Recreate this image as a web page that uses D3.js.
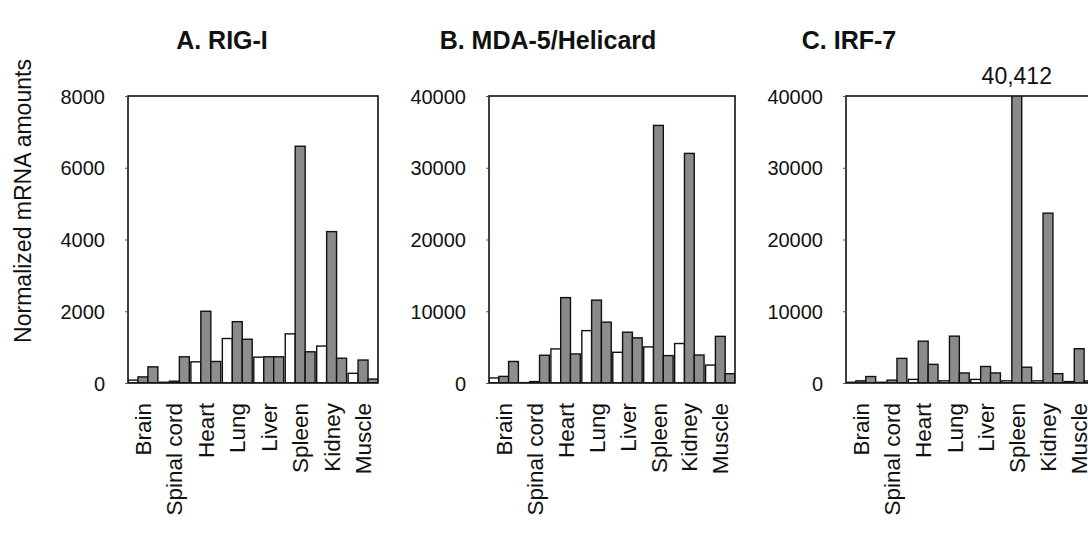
<!DOCTYPE html>
<html>
<head>
<meta charset="utf-8">
<script src="https://cdn.jsdelivr.net/npm/d3@7"></script>
<style>
  body { margin: 0; background: #fff; }
  svg text { font-family: "Liberation Sans", Arial, Helvetica, sans-serif; fill: #111; }
</style>
</head>
<body>
<div id="chart"></div>
<script>
// tissues on the x axis (same for the three panels)
var tissues = ["Brain", "Spinal cord", "Heart", "Lung", "Liver", "Spleen", "Kidney", "Muscle"];

// A. RIG-I  (white bar, first grey bar, second grey bar)
var rigWhite = [80, 20, 590, 1240, 720, 1370, 1030, 270];
var rigGrey1 = [170, 50, 2000, 1710, 730, 6600, 4220, 640];
var rigGrey2 = [450, 730, 600, 1220, 730, 870, 690, 110];

// B. MDA-5/Helicard
var mdaWhite = [700, 50, 4750, 7300, 4280, 5030, 5500, 2500];
var mdaGrey1 = [920, 200, 11900, 11550, 7080, 35900, 32000, 6500];
var mdaGrey2 = [3000, 3870, 4050, 8480, 6290, 3820, 3900, 1300];

// C. IRF-7
var irfWhite = [100, 100, 500, 300, 500, 300, 300, 200];
var irfGrey1 = [300, 400, 5830, 6530, 2300, 40412, 23670, 4780];
var irfGrey2 = [900, 3430, 2600, 1400, 1400, 2200, 1300, 300];

// y tick labels
var ticksA = [0, 2000, 4000, 6000, 8000];
var ticksBC = [0, 10000, 20000, 30000, 40000];

var width = 1088, height = 534;
var plotTop = 96, plotBottom = 383;
var fills = ["#ffffff", "#8a8a8a", "#8e8e8e"];

var panels = [
  {title: "A. RIG-I", titleX: 222, x0: 128, x1: 378, max: 8000, ticks: ticksA, series: [rigWhite, rigGrey1, rigGrey2]},
  {title: "B. MDA-5/Helicard", titleX: 548, x0: 489, x1: 735, max: 40000, ticks: ticksBC, series: [mdaWhite, mdaGrey1, mdaGrey2]},
  {title: "C. IRF-7", titleX: 849, x0: 846, x1: 1094, max: 40000, ticks: ticksBC, series: [irfWhite, irfGrey1, irfGrey2]}
];

var svg = d3.select("#chart")
  .append("svg")
    .attr("width", width)
    .attr("height", height);

// y axis title
svg.append("text")
  .attr("transform", "translate(31,201) rotate(-90)")
  .attr("text-anchor", "middle")
  .style("font-size", "23px")
  .text("Normalized mRNA amounts");

panels.forEach(function(p, pi) {
  var g = svg.append("g");

  var x = d3.scaleBand()
    .domain(tissues)
    .range([p.x0, p.x1])
    .paddingInner(0.05)
    .paddingOuter(0);

  var xs = d3.scaleBand()
    .domain([0, 1, 2])
    .range([0, x.bandwidth()]);

  var y = d3.scaleLinear()
    .domain([0, p.max])
    .range([plotBottom, plotTop]);

  // clip so that values above the axis max are cut at the frame
  g.append("clipPath")
    .attr("id", "clip" + pi)
    .append("rect")
      .attr("x", p.x0)
      .attr("y", plotTop)
      .attr("width", p.x1 - p.x0)
      .attr("height", plotBottom - plotTop);

  // flatten the three series into one list of bars
  var bars = [];
  p.series.forEach(function(s, si) {
    s.forEach(function(v, ti) {
      bars.push({tissue: tissues[ti], s: si, value: v});
    });
  });

  g.append("g")
    .attr("clip-path", "url(#clip" + pi + ")")
    .selectAll("rect")
    .data(bars)
    .enter()
    .append("rect")
      .attr("x", function(d) { return x(d.tissue) + xs(d.s); })
      .attr("y", function(d) { return y(d.value); })
      .attr("width", xs.bandwidth())
      .attr("height", function(d) { return plotBottom - y(d.value); })
      .attr("fill", function(d) { return fills[d.s]; })
      .attr("stroke", "#111")
      .attr("stroke-width", 1.4);

  // frame
  g.append("rect")
    .attr("x", p.x0)
    .attr("y", plotTop)
    .attr("width", p.x1 - p.x0)
    .attr("height", plotBottom - plotTop)
    .attr("fill", "none")
    .attr("stroke", "#111")
    .attr("stroke-width", 1.6);

  // y axis
  var yAxis = g.append("g")
    .attr("transform", "translate(" + p.x0 + ",0)")
    .call(d3.axisLeft(y).tickValues(p.ticks).tickSize(3).tickPadding(20).tickFormat(d3.format("d")));
  yAxis.select(".domain").remove();
  yAxis.selectAll("line").attr("stroke", "#555");
  yAxis.selectAll("text")
    .style("font-size", "20px")
    .attr("dy", "0.36em");

  // x labels, rotated
  g.selectAll(".xlab")
    .data(tissues)
    .enter()
    .append("text")
      .attr("class", "xlab")
      .attr("transform", function(d) {
        return "translate(" + (x(d) + x.bandwidth() / 2) + ",403) rotate(-90)";
      })
      .attr("text-anchor", "end")
      .attr("dy", "0.36em")
      .style("font-size", "22.5px")
      .text(function(d) { return d; });

  // panel title
  svg.append("text")
    .attr("x", p.titleX)
    .attr("y", 49)
    .attr("text-anchor", "middle")
    .style("font-size", "25px")
    .style("font-weight", "bold")
    .text(p.title);

  // value label for bars running off the top
  bars.filter(function(d) { return d.value > p.max; }).forEach(function(d) {
    svg.append("text")
      .attr("x", x(d.tissue) + xs(d.s) + xs.bandwidth() / 2)
      .attr("y", 84)
      .attr("text-anchor", "middle")
      .style("font-size", "23px")
      .text(d3.format(",")(d.value));
  });
});
</script>
</body>
</html>
